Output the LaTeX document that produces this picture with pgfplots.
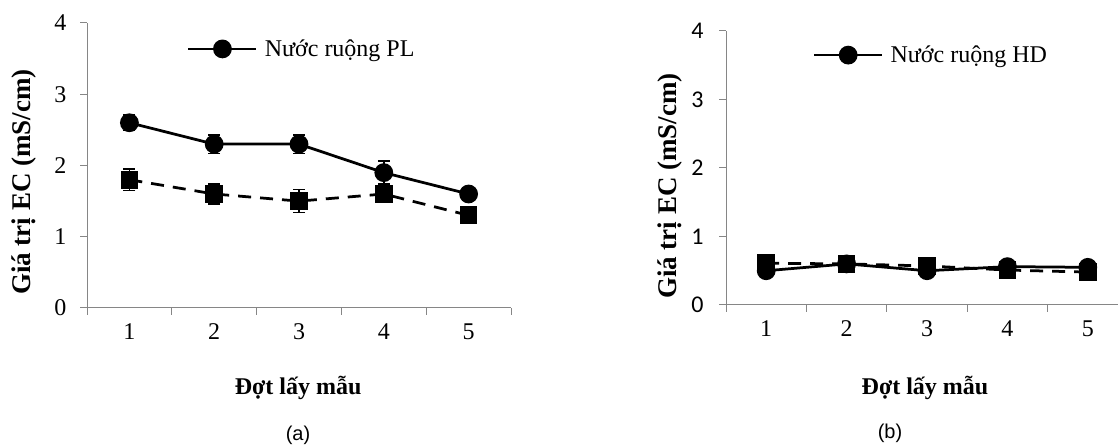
\documentclass[border=0pt]{standalone}
\usepackage{fontspec}
\setmainfont{Liberation Serif}
\newfontfamily\arialf{Liberation Sans}
\newfontfamily\calib{Carlito}
\usepackage{pgfplots}
\pgfplotsset{compat=1.18}
\definecolor{axgray}{RGB}{134,134,134}

\pgfplotstableread{
x y e
1 2.6 0.11
2 2.3 0.13
3 2.3 0.13
4 1.9 0.16
5 1.6 0.04
}\plA
\pgfplotstableread{
x y e
1 1.8 0.15
2 1.6 0.14
3 1.5 0.16
4 1.6 0.05
5 1.3 0.05
}\plB
\pgfplotstableread{
x y
1 0.5
2 0.6
3 0.5
4 0.56
5 0.55
}\hdA
\pgfplotstableread{
x y
1 0.61
2 0.6
3 0.57
4 0.51
5 0.48
}\hdB

\pgfplotsset{
 mystyle/.style={
  scale only axis,
  xmin=0.5,xmax=5.5,ymin=0,ymax=4,
  axis x line*=bottom, axis y line*=left,
  axis line style={draw=axgray, line width=1pt},
  xtick={0.5,1.5,...,5.5},
  x tick label as interval,
  xticklabels={1,2,3,4,5},
  ytick={0,1,2,3,4},
  yticklabels={0,1,2,3,4},
  tick align=outside,
  major tick length=7pt,
  tick style={draw=axgray, line width=1pt},
  xticklabel style={font=\fontsize{24}{28}\selectfont, yshift=-5pt},
  xlabel style={font=\bfseries\fontsize{24}{29}\selectfont, anchor=center},
  ylabel style={font=\bfseries\fontsize{27}{32}\selectfont, anchor=center},
  xlabel={Đợt lấy mẫu},
  ylabel={Giá trị EC (mS/cm)},
  legend style={draw=none, fill=none, inner sep=0pt, outer sep=0pt,
    font=\fontsize{24}{28}\selectfont, anchor=west,
    nodes={inner sep=0pt, inner xsep=7pt}},
  legend cell align=left,
  legend image code/.code={\draw[mark repeat=2,mark phase=2,#1] plot coordinates {(0pt,0pt) (34pt,0pt) (68pt,0pt)};},
 },
 solidser/.style={black, line width=2.75pt, mark=*, mark size=8pt, mark options={solid, fill=black}},
 dashser/.style={black, line width=2.75pt, dash pattern=on 13pt off 9pt, mark=square*, mark size=7.5pt, mark options={solid, fill=black}},
}

\begin{document}
\begin{tikzpicture}[x=1pt,y=1pt]
\begin{axis}[mystyle,
  at={(87pt,138pt)}, anchor=south west, width=424pt, height=285pt,
  yticklabel style={font=\fontsize{24}{28}\selectfont, xshift=-10pt},
  xlabel style={at={(axis description cs:0.498,-0.281)}},
  ylabel style={at={(axis description cs:-0.1486,0.442)}},
  legend style={at={(axis description cs:0.236,0.909)}},
]
\addplot[solidser, error bars/.cd, y dir=both, y explicit,
  error bar style={solid, line width=1.5pt, black},
  error mark options={rotate=90, solid, line width=1.5pt, mark size=6pt, black}]
  table[x=x, y=y, y error=e] {\plA};
\addlegendentry{Nước ruộng PL}
\addplot[dashser, forget plot, error bars/.cd, y dir=both, y explicit,
  error bar style={solid, line width=1.5pt, black},
  error mark options={rotate=90, solid, line width=1.5pt, mark size=6pt, black}]
  table[x=x, y=y, y error=e] {\plB};
\end{axis}

\begin{axis}[mystyle,
  at={(726pt,141pt)}, anchor=south west, width=402pt, height=274pt,
  yticklabel style={font=\calib\fontsize{24}{28}\selectfont, xshift=-12pt},
  xlabel style={at={(axis description cs:0.495,-0.303)}},
  ylabel style={at={(axis description cs:-0.139,0.434)}},
  legend style={at={(axis description cs:0.216,0.912)}},
]
\addplot[solidser] table[x=x, y=y] {\hdA};
\addlegendentry{Nước ruộng HD}
\addplot[dashser, forget plot] table[x=x, y=y] {\hdB};
\end{axis}

\node[font=\arialf\fontsize{20}{24}\selectfont] at (298,11) {(a)};
\node[font=\arialf\fontsize{20}{24}\selectfont] at (890,13) {(b)};

\pgfresetboundingbox
\path[use as bounding box] (0,0) rectangle (1118,446);
\end{tikzpicture}
\end{document}
